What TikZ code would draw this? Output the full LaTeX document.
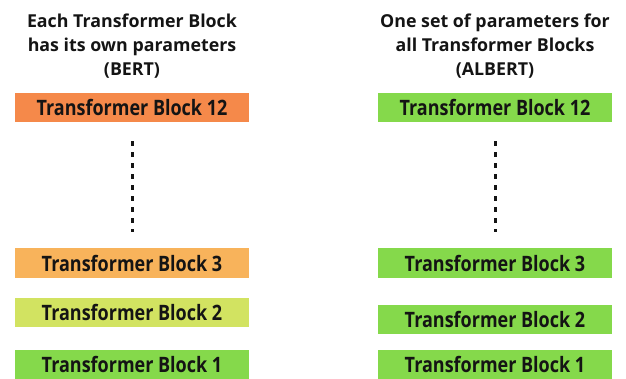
\documentclass[tikz,border=0pt]{standalone}
\usepackage{fontspec}
\usepackage{graphicx}
\setmainfont{Open Sans}
\definecolor{orangeA}{HTML}{F5894A}
\definecolor{orangeB}{HTML}{F8B35B}
\definecolor{limeC}{HTML}{D2E361}
\definecolor{greenD}{HTML}{85D94B}
\definecolor{inkT}{HTML}{141414}
% block labels are set slightly taller than wide
\newcommand{\blocklabel}[1]{\scalebox{1}[1.18]{#1}}
\tikzset{
  block/.style={minimum width=234pt, minimum height=29pt, inner sep=0pt,
    text=inkT, font=\bfseries\fontsize{18}{20}\selectfont},
  caption/.style={align=center, text=inkT, font=\bfseries\fontsize{17.8}{24}\selectfont},
  dots/.style={line width=3pt, dash pattern=on 4.5pt off 6.5pt, inkT}
}
\begin{document}
\begin{tikzpicture}[x=1pt, y=-1pt]
  \useasboundingbox (0,0) rectangle (626,379);

  % left column: separate parameters per block
  \node[caption] (capL) at (132,46) {Each Transformer Block\\has its own parameters\\(BERT)};
  \node[block, fill=orangeA] (L12) at (132,107.5) {\blocklabel{Transformer Block 12}};
  \node[block, fill=orangeB] (L3)  at (132,263)   {\blocklabel{Transformer Block 3}};
  \node[block, fill=limeC]   (L2)  at (132,312)   {\blocklabel{Transformer Block 2}};
  \node[block, fill=greenD]  (L1)  at (132,364)   {\blocklabel{Transformer Block 1}};

  % right column: one shared parameter set
  \node[caption] (capR) at (495,46) {One set of parameters for\\all Transformer Blocks\\(ALBERT)};
  \node[block, fill=greenD] (R12) at (495,107.5) {\blocklabel{Transformer Block 12}};
  \node[block, fill=greenD] (R3)  at (495,263)   {\blocklabel{Transformer Block 3}};
  \node[block, fill=greenD] (R2)  at (495,319)   {\blocklabel{Transformer Block 2}};
  \node[block, fill=greenD] (R1)  at (495,364)   {\blocklabel{Transformer Block 1}};

  % elided blocks between 3 and 12
  \coordinate (lTop) at (132,141.5);
  \coordinate (lBot) at (132,232);
  \coordinate (rTop) at (495,141.5);
  \coordinate (rBot) at (495,232);
  \draw[dots] (lTop) -- (lBot);
  \draw[dots] (rTop) -- (rBot);
\end{tikzpicture}
\end{document}
